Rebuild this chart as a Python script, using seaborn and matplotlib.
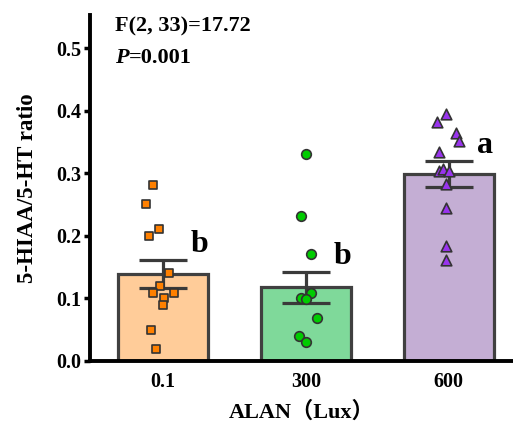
import numpy as np
import pandas as pd
import matplotlib
matplotlib.use("Agg")
import matplotlib.pyplot as plt
import seaborn as sns

# ---- data ----
categories = ["0.1", "300", "600"]
bar_means = [0.139, 0.118, 0.299]
bar_sem = [0.023, 0.025, 0.021]
letters = ["b", "b", "a"]

pts_01 = [0.281, 0.251, 0.211, 0.200, 0.140, 0.120, 0.109, 0.109, 0.101, 0.090, 0.050, 0.019]
jit_01 = [-0.07, -0.12, -0.03, -0.10, 0.04, -0.02, -0.07, 0.08, 0.01, 0.00, -0.08, -0.05]
pts_300 = [0.331, 0.231, 0.171, 0.109, 0.100, 0.099, 0.069, 0.040, 0.030]
jit_300 = [0.00, -0.03, 0.04, 0.04, -0.03, 0.00, 0.08, -0.05, 0.00]
pts_600 = [0.395, 0.382, 0.364, 0.352, 0.334, 0.304, 0.307, 0.303, 0.283, 0.244, 0.183, 0.162]
jit_600 = [-0.02, -0.08, 0.05, 0.07, -0.07, -0.07, -0.04, 0.00, -0.02, -0.02, -0.02, -0.02]

bar_colors = ["#FFCC99", "#7FD99A", "#C4AED4"]
pt_colors = ["#FF8000", "#00CC00", "#9933EE"]
pt_markers = ["s", "o", "^"]

sns.set_theme(style="white")
plt.rcParams["font.family"] = ["Liberation Serif", "Noto Sans CJK SC"]
plt.rcParams["font.weight"] = "bold"
plt.rcParams["text.color"] = "black"
plt.rcParams["axes.labelcolor"] = "black"
plt.rcParams["xtick.color"] = "black"
plt.rcParams["ytick.color"] = "black"

fig = plt.figure(figsize=(5.13, 4.24), dpi=100)
ax = fig.add_axes([0.1754, 0.1486, 0.8246, 0.816])

bar_df = pd.DataFrame({"ALAN": categories, "ratio": bar_means})
sns.barplot(data=bar_df, x="ALAN", y="ratio", hue="ALAN", palette=bar_colors,
            saturation=1, width=0.63, edgecolor="#404040", linewidth=2.3,
            errorbar=None, legend=False, ax=ax, zorder=2)

ax.errorbar(np.arange(len(categories)), bar_means, yerr=bar_sem, fmt="none",
            ecolor="#3a3a3a", elinewidth=2.3, capsize=17, capthick=2.3, zorder=3)

rows = []
for gi, (vals, jit) in enumerate([(pts_01, jit_01), (pts_300, jit_300), (pts_600, jit_600)]):
    for v, j in zip(vals, jit):
        rows.append({"grp": categories[gi], "x": gi + j, "y": v})
pts_df = pd.DataFrame(rows)

for gi, cat in enumerate(categories):
    sub = pts_df[pts_df["grp"] == cat]
    sns.scatterplot(data=sub, x="x", y="y", marker=pt_markers[gi], color=pt_colors[gi],
                    edgecolor="#333333", linewidth=1.2,
                    s=[38, 48, 58][gi], ax=ax, zorder=4, legend=False)

for gi, t in enumerate(letters):
    ax.text(gi + 0.255, bar_means[gi] + bar_sem[gi] + 0.024, t, ha="center", va="center",
            fontsize=23, fontweight="bold")

ax.set_xlim(-0.51, 2.45)
ax.set_ylim(0, 0.553)
ax.set_yticks([0.0, 0.1, 0.2, 0.3, 0.4, 0.5])
ax.set_yticklabels(["0.0", "0.1", "0.2", "0.3", "0.4", "0.5"])
ax.set_xticks(range(len(categories)))
ax.set_xticklabels(categories)

for side in ["top", "right"]:
    ax.spines[side].set_visible(False)
for side in ["left", "bottom"]:
    ax.spines[side].set_color("black")
    ax.spines[side].set_linewidth(2.8)
    ax.spines[side].set_zorder(5)

ax.tick_params(axis="y", direction="out", length=4, width=2.5, color="black",
               labelsize=14.5, pad=2, left=True)
ax.tick_params(axis="x", length=0, labelsize=14.5, pad=8)
for lab in ax.get_xticklabels() + ax.get_yticklabels():
    lab.set_fontweight("bold")

ax.set_xlabel("ALAN（Lux）", fontsize=16, fontweight="bold", labelpad=7)
ax.set_ylabel("5-HIAA/5-HT ratio", fontsize=16.5, fontweight="bold", labelpad=13)

ax.text(0.059, 0.997, "F(2, 33)=17.72", transform=ax.transAxes, ha="left", va="top",
        fontsize=16, fontweight="bold")
ptxt = ax.text(0.059, 0.862, "P", transform=ax.transAxes, ha="left", va="baseline",
               fontsize=16, fontweight="bold", fontstyle="italic")
ax.annotate("=0.001", xy=(1, 0), xycoords=ptxt, xytext=(0, 0), textcoords="offset points",
            ha="left", va="bottom", fontsize=16, fontweight="bold")

fig.savefig("out.png", dpi=100)
